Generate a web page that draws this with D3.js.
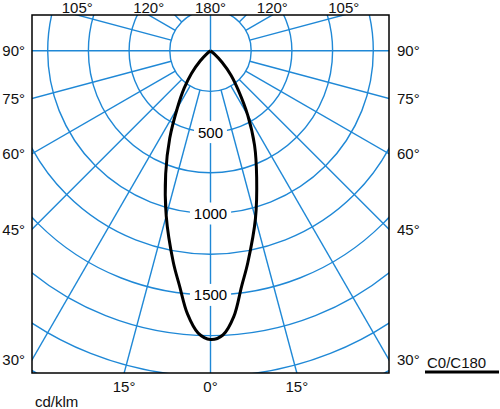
<!DOCTYPE html>
<html>
<head>
<meta charset="utf-8">
<script src="https://cdn.jsdelivr.net/npm/d3@7"></script>
<style>
  html, body { margin: 0; padding: 0; background: #fff; }
  svg { display: block; font-family: "Liberation Sans", Arial, sans-serif; }
</style>
</head>
<body>
<svg id="chart" width="500" height="409"></svg>
<script>
// gamma angles (deg, 0 = straight down) and intensities in cd/klm
const gammaDeg = [0, 2.5, 5, 7.5, 10, 15, 20, 25, 30, 35, 40, 45, 50, 55];
const c0Values = [1774, 1748, 1640, 1461, 1321, 1067, 829, 640, 457, 301, 196, 100, 30, 0];
const c180Values = [1774, 1736, 1623, 1457, 1318, 1051, 805, 592, 408, 283, 182, 90, 28, 0];

// grid
const ringValues = [250, 500, 750, 1000, 1250, 1500, 1750, 2000, 2250, 2500];
const ringLabels = [500, 1000, 1500];
const spokeAngles = d3.range(0, 360, 15);
const fullSpokes = [0, 90, 180, 270];

// angle labels: [gamma, side]
const topLabels = [[105, -1], [120, -1], [180, 0], [120, 1], [105, 1]];
const sideLabels = [90, 75, 60, 45, 30];
const bottomLabels = [[15, -1], [0, 0], [15, 1]];

const unitLabel = "cd/klm";
const legendLabel = "C0/C180";

const GridColor = "#1f88d6";
const frame = { left: 32, right: 389, top: 15, bottom: 373 };
const cx = 210.5, cy = 50.7;

const svg = d3.select("#chart");
const r = d3.scaleLinear().domain([0, 250]).range([0, 40.7]);

// point for gamma (deg) at radius px, side -1 left / +1 right
function pt(g, rad, side) {
  const a = g * Math.PI / 180;
  return [cx + side * rad * Math.sin(a), cy + rad * Math.cos(a)];
}

svg.append("clipPath").attr("id", "frameClip")
  .append("rect")
  .attr("x", frame.left).attr("y", frame.top)
  .attr("width", frame.right - frame.left).attr("height", frame.bottom - frame.top);

const grid = svg.append("g").attr("clip-path", "url(#frameClip)")
  .attr("fill", "none").attr("stroke", GridColor).attr("stroke-width", 1.4);

grid.selectAll("circle").data(ringValues).join("circle")
  .attr("cx", cx).attr("cy", cy).attr("r", d => r(d));

grid.selectAll("line").data(spokeAngles).join("line")
  .each(function (d) {
    const r0 = fullSpokes.includes(d) ? 0 : r(250);
    const p0 = pt(d, r0, 1), p1 = pt(d, 800, 1);
    d3.select(this).attr("x1", p0[0]).attr("y1", p0[1]).attr("x2", p1[0]).attr("y2", p1[1]);
  });

// ring value labels on the vertical axis
const rl = svg.append("g").attr("font-size", 15).attr("text-anchor", "middle");
ringLabels.forEach(v => {
  const y = cy + r(v);
  const w = String(v).length * 8.3 + 8;
  rl.append("rect").attr("x", cx - w / 2).attr("y", y - 11).attr("width", w).attr("height", 22).attr("fill", "#fff");
  rl.append("text").attr("x", cx).attr("y", y).attr("dy", "0.36em").text(v);
});

// frame
svg.append("rect")
  .attr("x", frame.left).attr("y", frame.top)
  .attr("width", frame.right - frame.left).attr("height", frame.bottom - frame.top)
  .attr("fill", "none").attr("stroke", "#000").attr("stroke-width", 1.5);

// intensity curve
const pts = [];
for (let i = gammaDeg.length - 1; i >= 0; i--) pts.push(pt(gammaDeg[i], r(c180Values[i]), -1));
for (let i = 1; i < gammaDeg.length; i++) pts.push(pt(gammaDeg[i], r(c0Values[i]), 1));

svg.append("path")
  .attr("d", d3.line().curve(d3.curveCatmullRom.alpha(0.5))(pts))
  .attr("fill", "none").attr("stroke", "#000").attr("stroke-width", 3).attr("stroke-linejoin", "round");

// angle labels
const lab = svg.append("g").attr("font-size", 15).attr("fill", "#111");

topLabels.forEach(([g, side]) => {
  const a = (180 - g) * Math.PI / 180;
  const x = side === 0 ? cx : cx + side * (cy - frame.top) * Math.tan(a);
  lab.append("text").attr("x", x).attr("y", 13).attr("text-anchor", "middle").text(g + "°");
});

sideLabels.forEach(g => {
  const a = g * Math.PI / 180;
  const y = cy + (cx - frame.left) / Math.tan(a);
  lab.append("text").attr("x", 25).attr("y", y + 5.5).attr("text-anchor", "end").text(g + "°");
  lab.append("text").attr("x", 397).attr("y", y + 5.5).attr("text-anchor", "start").text(g + "°");
});

bottomLabels.forEach(([g, side]) => {
  const x = cx + side * (frame.bottom - cy) * Math.tan(g * Math.PI / 180);
  lab.append("text").attr("x", x).attr("y", 392).attr("text-anchor", "middle").text(g + "°");
});

lab.append("text").attr("x", 35).attr("y", 407).text(unitLabel);

// legend
lab.append("text").attr("x", 427).attr("y", 368).text(legendLabel);
svg.append("line").attr("x1", 425).attr("x2", 499).attr("y1", 372).attr("y2", 372)
  .attr("stroke", "#000").attr("stroke-width", 3);
</script>
</body>
</html>
